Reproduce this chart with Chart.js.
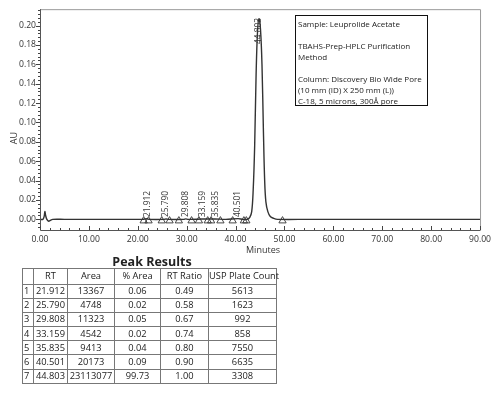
<!DOCTYPE html>
<html>
<head>
<meta charset="utf-8">
<script src="https://cdn.jsdelivr.net/npm/chart.js@4.4.1/dist/chart.umd.min.js"></script>
<style>
  body { margin: 0; background: #fff; font-family: "Open Sans", sans-serif; }
  #page { position: relative; width: 495px; height: 397px; overflow: hidden; }
  #chartBox { position: absolute; left: 0; top: 0; width: 495px; height: 258px; }
  #infoBox {
    position: absolute; left: 295px; top: 15px; width: 129px; height: 87px;
    border: 1.8px solid #111; padding: 2px 0 0 2px;
    font-size: 8px; line-height: 11px; color: #222; white-space: pre;
  }
  #tableTitle {
    position: absolute; left: 52px; top: 253px; width: 200px; text-align: center;
    font-size: 12.5px; font-weight: bold; color: #222;
  }
  #peakTable {
    position: absolute; left: 22px; top: 268px; border-collapse: collapse;
    table-layout: fixed; width: 254px;
    font-size: 9.3px; color: #222;
  }
  #peakTable td {
    border: 1px solid #777; padding: 0; height: 13.2px; line-height: 12px;
    text-align: center; white-space: nowrap; overflow: visible;
  }
  #peakTable td.idx { text-align: left; padding-left: 1px; }
</style>
</head>
<body>
<div id="page">
  <div id="chartBox"><canvas id="chromatogram"></canvas></div>
  <div id="infoBox">Sample: Leuprolide Acetate

TBAHS-Prep-HPLC Purification
Method

Column: Discovery Bio Wide Pore
(10 mm (ID) X 250 mm (L))
C-18, 5 microns, 300Å pore</div>
  <div id="tableTitle">Peak Results</div>
  <table id="peakTable"></table>
</div>
<script>
// trace (minutes, AU)
const timeMin = [0, 0.6, 0.85, 1.0, 1.15, 1.4, 1.8, 2.1, 2.6, 5, 10, 15, 20, 21.0, 21.9, 22.4,
  25.3, 25.8, 26.3, 29.4, 29.8, 30.3, 33.2, 35.8, 38, 40.5, 41.5, 42.4, 42.9, 43.3, 43.6, 43.9,
  44.2, 44.5, 44.8, 45.1, 45.4, 45.7, 45.95, 46.2, 46.6, 47.1, 47.8, 48.6, 55, 65, 75, 90];
const absorbance = [0, 0, 0.003, 0.008, 0.004, 0, -0.002, -0.001, 0, 0, 0, 0, 0, 0, 0.0006, 0,
  0, 0.0004, 0, 0, 0.0005, 0, 0.0003, 0.0004, 0, 0.0007, 0, 0, 0.002, 0.008, 0.03, 0.075,
  0.15, 0.195, 0.207, 0.196, 0.16, 0.09, 0.04, 0.018, 0.008, 0.003, 0.001, 0, 0, 0, 0, 0];

const peakTimes = [21.912, 25.790, 29.808, 33.159, 35.835, 40.501, 44.803];
const peakLabelBase = [0.0023, 0.0023, 0.0023, 0.0023, 0.0023, 0.0023, 0.181];
const markerTimes = [21.2, 22.2, 24.9, 26.5, 28.4, 31.0, 32.5, 34.3, 35.0, 36.9, 39.4, 41.7, 42.2, 49.6];

const xTickStep = 10, xMinorStep = 2;
const yTickStep = 0.02, yMinorStep = 0.004;

// table
const tableHeader = ["", "RT", "Area", "% Area", "RT Ratio", "USP Plate Count"];
const rtCol = ["21.912", "25.790", "29.808", "33.159", "35.835", "40.501", "44.803"];
const areaCol = ["13367", "4748", "11323", "4542", "9413", "20173", "23113077"];
const pctAreaCol = ["0.06", "0.02", "0.05", "0.02", "0.04", "0.09", "99.73"];
const rtRatioCol = ["0.49", "0.58", "0.67", "0.74", "0.80", "0.90", "1.00"];
const plateCol = ["5613", "1623", "992", "858", "7550", "6635", "3308"];

const colWidths = [9, 33, 46, 45, 47, 67];
const tbl = document.getElementById("peakTable");
function addRow(cells, isHeader) {
  const tr = document.createElement("tr");
  cells.forEach((c, i) => {
    const td = document.createElement("td");
    td.textContent = c;
    td.style.width = colWidths[i] + "px";
    if (i === 0) td.className = "idx";
    if (isHeader) td.style.height = "14.5px";
    tr.appendChild(td);
  });
  tbl.appendChild(tr);
}
addRow(tableHeader, true);
rtCol.forEach((rt, i) => {
  addRow([String(i + 1), rt, areaCol[i], pctAreaCol[i], rtRatioCol[i], plateCol[i]], false);
});

function isMultiple(v, step) {
  return Math.abs(v / step - Math.round(v / step)) < 1e-6;
}

// ticks on every minor step, labels only on the major ones
function stepTicks(scale, step) {
  const ticks = [];
  const first = Math.ceil(scale.min / step - 1e-9);
  const last = Math.floor(scale.max / step + 1e-9);
  for (let k = first; k <= last; k++) {
    ticks.push({ value: Math.round(k * step * 1e6) / 1e6 });
  }
  scale.ticks = ticks;
}

const FONT = '"Open Sans", sans-serif';

const decorPlugin = {
  id: "decor",
  afterDatasetsDraw(chart) {
    const { ctx, chartArea, scales } = chart;
    const xs = scales.x, ys = scales.y;
    ctx.save();
    // frame
    ctx.strokeStyle = "#999";
    ctx.lineWidth = 1;
    ctx.beginPath();
    ctx.moveTo(chartArea.left, chartArea.top + 0.5);
    ctx.lineTo(chartArea.right + 0.5, chartArea.top + 0.5);
    ctx.lineTo(chartArea.right + 0.5, chartArea.bottom);
    ctx.stroke();
    ctx.strokeStyle = "#555";
    ctx.beginPath();
    ctx.moveTo(chartArea.left + 0.5, chartArea.top);
    ctx.lineTo(chartArea.left + 0.5, chartArea.bottom + 0.5);
    ctx.lineTo(chartArea.right + 0.5, chartArea.bottom + 0.5);
    ctx.stroke();
    // ticks
    ctx.strokeStyle = "#444";
    ys.ticks.forEach(t => {
      const y = Math.round(ys.getPixelForValue(t.value)) + 0.5;
      const len = isMultiple(t.value, yTickStep) ? 4 : 2;
      ctx.beginPath();
      ctx.moveTo(chartArea.left - len, y);
      ctx.lineTo(chartArea.left, y);
      ctx.stroke();
    });
    xs.ticks.forEach(t => {
      const x = Math.round(xs.getPixelForValue(t.value)) + 0.5;
      const len = isMultiple(t.value, xTickStep) ? 4 : 2;
      ctx.beginPath();
      ctx.moveTo(x, chartArea.bottom);
      ctx.lineTo(x, chartArea.bottom - len);
      ctx.stroke();
    });
    // peak labels
    ctx.fillStyle = "#333";
    ctx.font = "8.4px " + FONT;
    ctx.textAlign = "left";
    ctx.textBaseline = "middle";
    peakTimes.forEach((rt, i) => {
      const x = xs.getPixelForValue(rt);
      const y = ys.getPixelForValue(peakLabelBase[i]);
      ctx.save();
      ctx.translate(x, y);
      ctx.rotate(-Math.PI / 2);
      ctx.fillText(rt.toFixed(3), 0, 0);
      ctx.restore();
    });
    // axis titles
    ctx.font = "9px " + FONT;
    ctx.textAlign = "center";
    ctx.fillText("Minutes", 263, 250);
    ctx.save();
    ctx.translate(14, 138);
    ctx.rotate(-Math.PI / 2);
    ctx.fillText("AU", 0, 0);
    ctx.restore();
    ctx.restore();
  }
};

new Chart(document.getElementById("chromatogram"), {
  type: "line",
  data: {
    datasets: [
      {
        data: timeMin.map((t, i) => ({ x: t, y: absorbance[i] })),
        borderColor: "#333",
        borderWidth: 1.4,
        pointRadius: 0,
        tension: 0.35,
        fill: false,
      },
      {
        type: "scatter",
        data: markerTimes.map(t => ({ x: t, y: -0.0015 })),
        pointStyle: "triangle",
        pointRadius: 4.2,
        borderColor: "#333",
        borderWidth: 0.9,
        backgroundColor: "rgba(255,255,255,0)",
      },
    ],
  },
  options: {
    responsive: true,
    maintainAspectRatio: false,
    animation: false,
    layout: { padding: { top: 3, right: 14, left: 0, bottom: 0 } },
    plugins: { legend: { display: false }, tooltip: { enabled: false } },
    scales: {
      x: {
        type: "linear",
        min: 0,
        max: 90,
        afterFit: (scale) => { scale.height = 28; },
        afterBuildTicks: (scale) => stepTicks(scale, xMinorStep),
        grid: { display: false, drawTicks: false },
        border: { display: false },
        ticks: {
          autoSkip: false,
          maxRotation: 0,
          padding: 4,
          color: "#333",
          font: { family: FONT, size: 8.6 },
          callback: (v) => (isMultiple(v, xTickStep) ? Number(v).toFixed(2) : ""),
        },
      },
      y: {
        min: -0.011,
        max: 0.217,
        afterFit: (scale) => { scale.width = 40; },
        afterBuildTicks: (scale) => stepTicks(scale, yMinorStep),
        grid: { display: false, drawTicks: false },
        border: { display: false },
        ticks: {
          autoSkip: false,
          padding: 4,
          color: "#333",
          font: { family: FONT, size: 8.6 },
          callback: (v) => (isMultiple(v, yTickStep) ? Number(v).toFixed(2) : ""),
        },
      },
    },
  },
  plugins: [decorPlugin],
});
</script>
</body>
</html>
